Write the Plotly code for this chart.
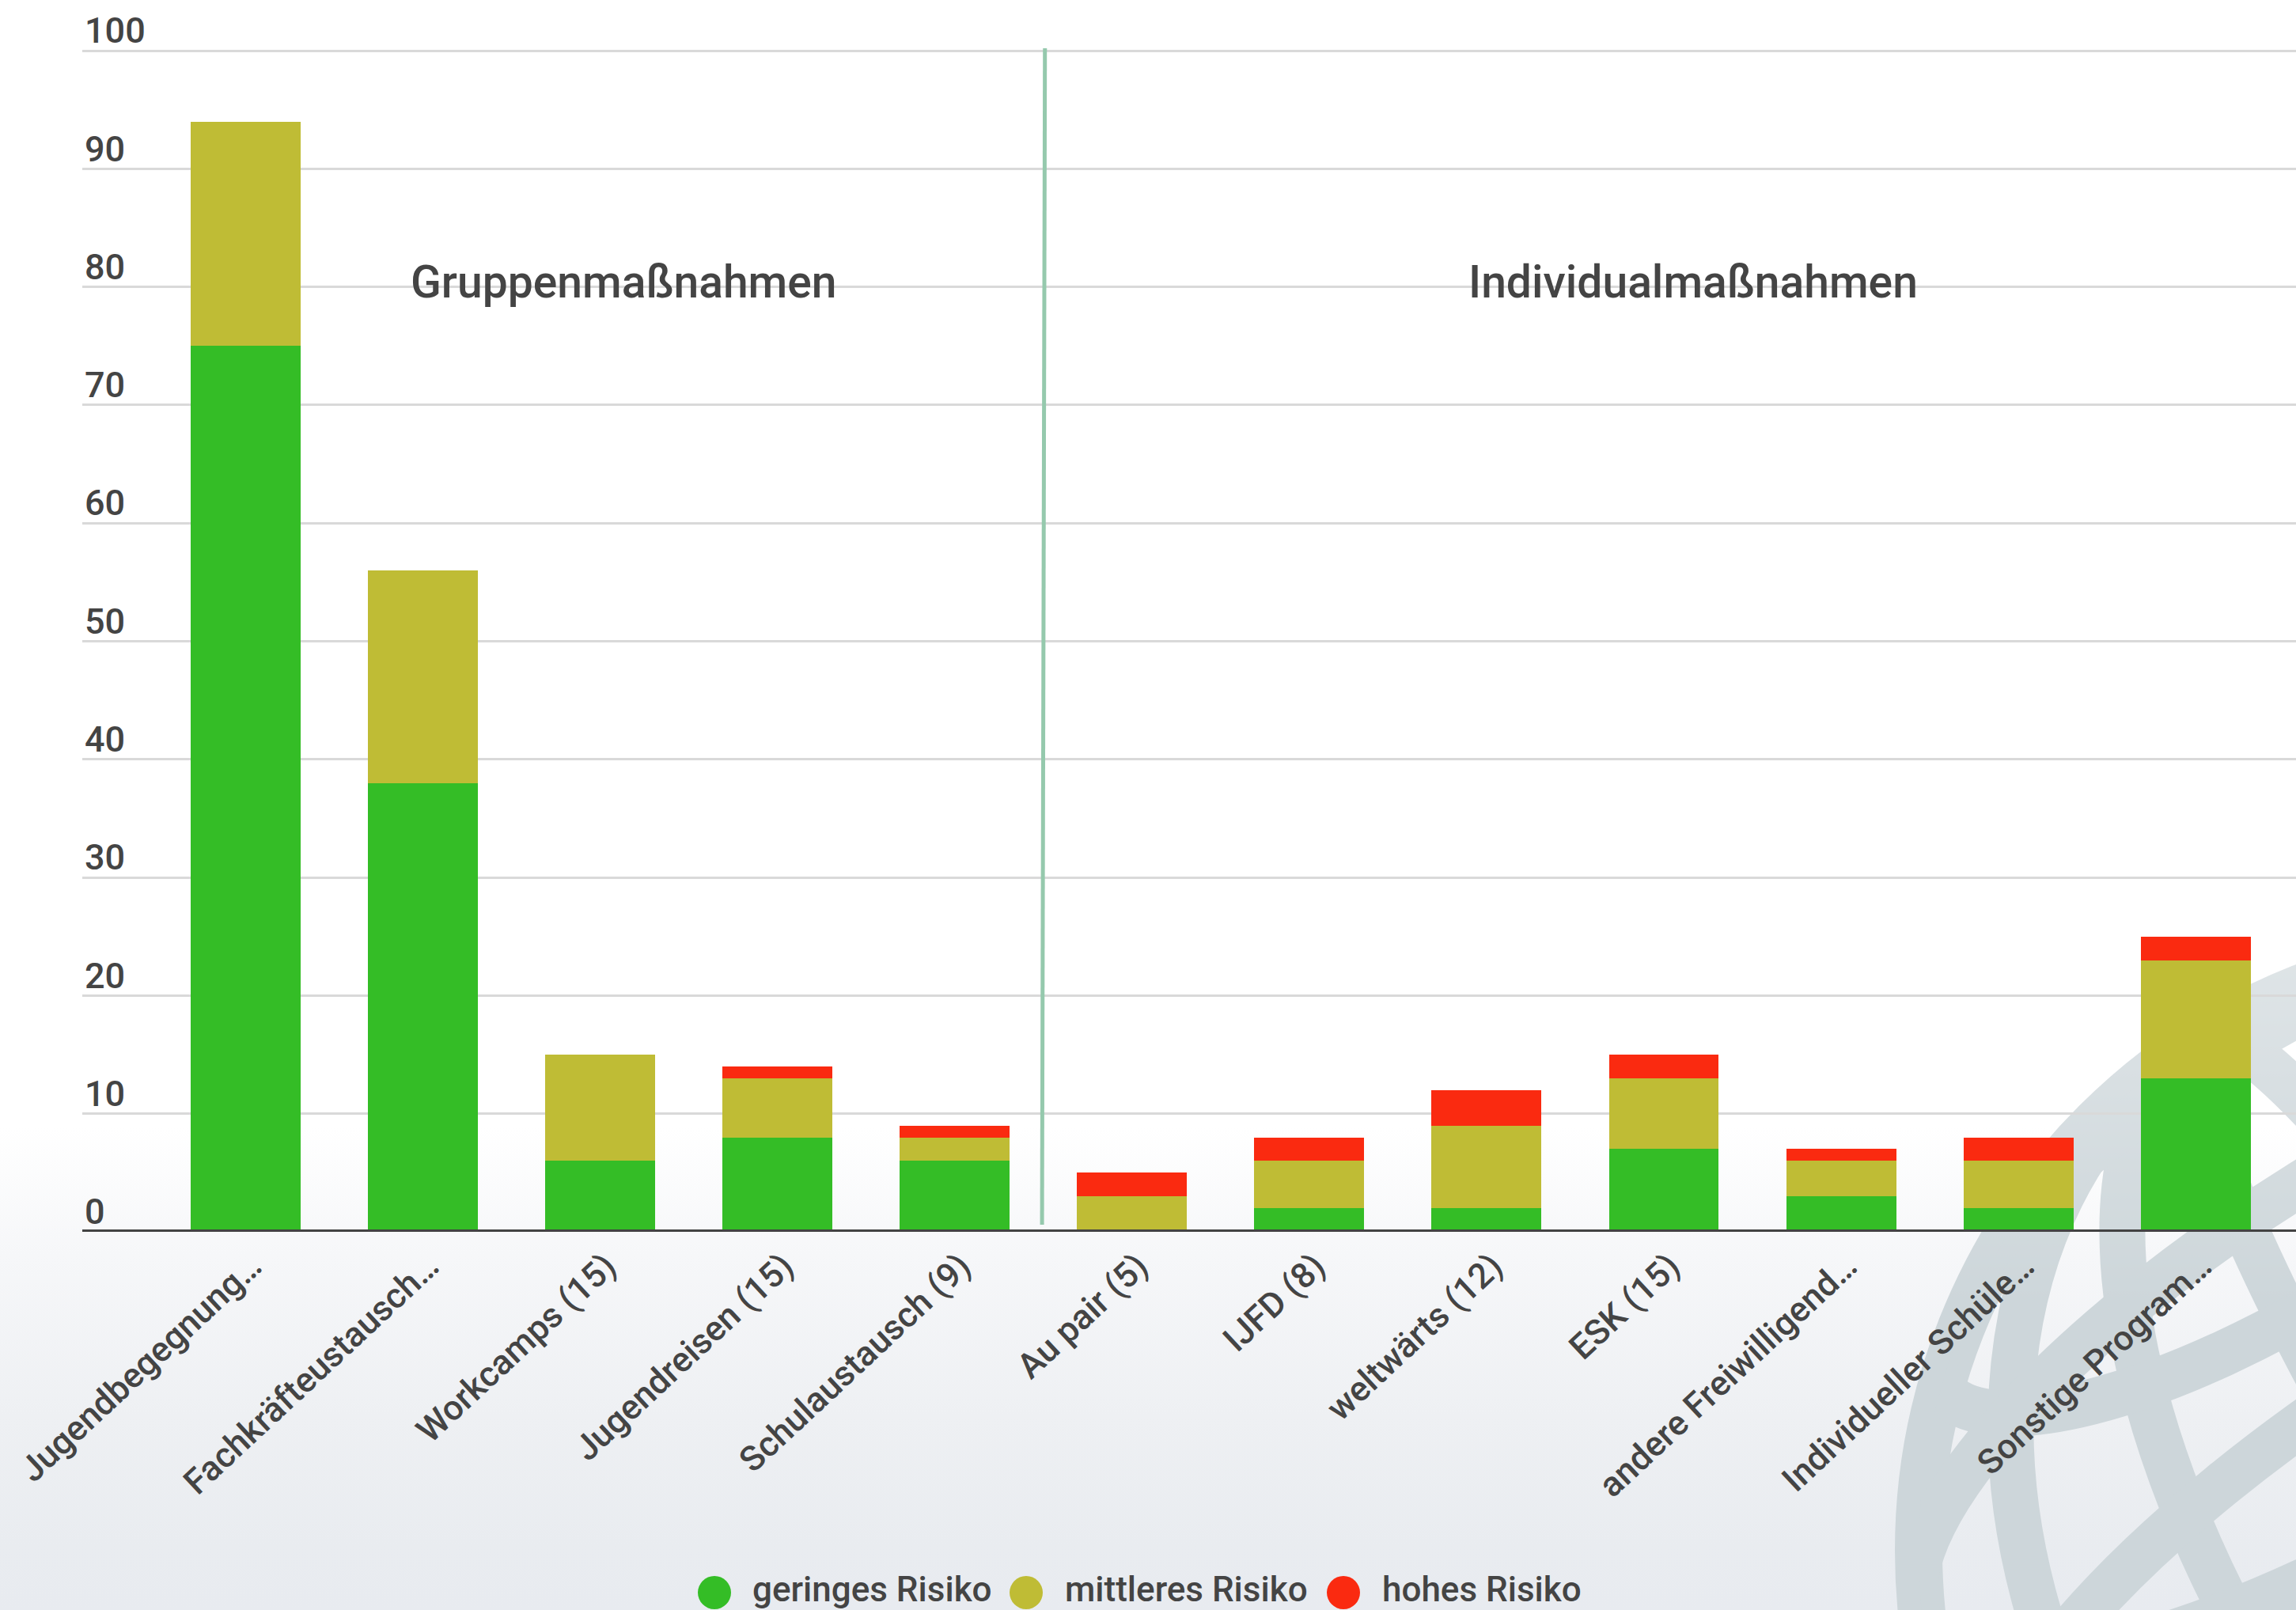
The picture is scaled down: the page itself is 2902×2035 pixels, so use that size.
import base64
import plotly.graph_objects as go

# ---------------- data ----------------
categories = ["Jugendbegegnung…", "Fachkräfteustausch…", "Workcamps (15)", "Jugendreisen (15)",
              "Schulaustausch (9)", "Au pair (5)", "IJFD (8)", "weltwärts (12)", "ESK (15)",
              "andere Freiwilligend…", "Individueller Schüle…", "Sonstige Program…"]
geringes_risiko = [75, 38, 6, 8, 6, 0, 2, 2, 7, 3, 2, 13]
mittleres_risiko = [19, 18, 9, 5, 2, 3, 4, 7, 6, 3, 4, 10]
hohes_risiko = [0, 0, 0, 1, 1, 2, 2, 3, 2, 1, 2, 2]
series_names = ["geringes Risiko", "mittleres Risiko", "hohes Risiko"]
series_colors = ["#34bd26", "#bfbc35", "#fa2a10"]
group_labels = ["Gruppenmaßnahmen", "Individualmaßnahmen"]
y_ticks = [0, 10, 20, 30, 40, 50, 60, 70, 80, 90, 100]

# ---------------- geometry ----------------
W, H = 2902, 2035
ML, MR, MT, MB = 104, 0, 0, 478
PW = W - ML - MR
PH = H - MT - MB
PX_PER_UNIT = 14.93
Y_TOP = PH / PX_PER_UNIT
X_RANGE = [-0.9216, 11.566]
TEXT = "#444444"
FONT = "Roboto"
WEIGHT = 500


def px_x(px):
    return (px - ML) / PW


def px_y(py):
    return (H - MB - py) / PH


# ---------------- background (gradient + globe watermark) ----------------
cx, cy, R = 3190, 1960, 795
rin = R - 30
inner = []
for k in (0.15, 0.47, 0.78):
    inner.append(f'<ellipse cx="{cx}" cy="{cy}" rx="{rin*k:.0f}" ry="{rin}"/>')
for d in (-0.74, -0.42, -0.06, 0.36):
    dy = d * rin
    rx = (rin ** 2 - dy ** 2) ** 0.5
    inner.append(f'<ellipse cx="{cx}" cy="{cy+dy:.0f}" rx="{rx:.0f}" ry="{rx*0.32:.0f}"/>')
svg = f'''<svg xmlns="http://www.w3.org/2000/svg" width="{W}" height="{H}" viewBox="0 0 {W} {H}" preserveAspectRatio="none">
<defs>
<linearGradient id="bg" x1="0" y1="0" x2="0" y2="1">
<stop offset="0" stop-color="#ffffff"/>
<stop offset="0.70" stop-color="#ffffff"/>
<stop offset="0.78" stop-color="#f6f7f9"/>
<stop offset="0.88" stop-color="#eef0f3"/>
<stop offset="0.96" stop-color="#e9ecf0"/>
<stop offset="1" stop-color="#e8ebf0"/>
</linearGradient>
<linearGradient id="fade" gradientUnits="userSpaceOnUse" x1="0" y1="1150" x2="0" y2="1650">
<stop offset="0" stop-color="#9a9a9a"/>
<stop offset="1" stop-color="#ffffff"/>
</linearGradient>
<mask id="gm" maskUnits="userSpaceOnUse" x="0" y="0" width="{W}" height="{H}">
<rect x="0" y="0" width="{W}" height="{H}" fill="url(#fade)"/>
</mask>
<clipPath id="gc"><circle cx="{cx}" cy="{cy}" r="{rin}"/></clipPath>
</defs>
<rect x="0" y="0" width="{W}" height="{H}" fill="url(#bg)"/>
<g mask="url(#gm)" fill="none" stroke="#cdd6da" stroke-width="58">
<circle cx="{cx}" cy="{cy}" r="{rin}" stroke-width="60"/>
<g clip-path="url(#gc)" transform="rotate(-32 {cx} {cy})">{''.join(inner)}</g>
</g>
</svg>'''
bg_src = "data:image/svg+xml;base64," + base64.b64encode(svg.encode("utf-8")).decode("ascii")

# ---------------- figure ----------------
fig = go.Figure()
for name, vals, col in zip(series_names, [geringes_risiko, mittleres_risiko, hohes_risiko], series_colors):
    fig.add_trace(go.Bar(x=categories, y=vals, name=name, marker=dict(color=col, line=dict(width=0)),
                         showlegend=False))

shapes = []
# baseline
shapes.append(dict(type="line", xref="paper", yref="y", x0=0, x1=1, y0=0, y1=0,
                   line=dict(color="#434343", width=6), layer="above"))
# separator between groups
shapes.append(dict(type="line", xref="x", yref="y", x0=4.5087, y0=100.2, x1=4.4923, y1=0.6,
                   line=dict(color="#95c9ad", width=5), layer="above"))

annotations = []
group_centers_px = [788, 2140]
for lab, cxp in zip(group_labels, group_centers_px):
    annotations.append(dict(text=lab, xref="paper", yref="paper", x=px_x(cxp), y=px_y(357),
                            xanchor="center", yanchor="middle", showarrow=False,
                            font=dict(family=FONT, size=57, color=TEXT, weight=WEIGHT)))

# legend (circles + labels)
legend_circle_px = [903, 1297, 1698]
legend_text_px = [951, 1346, 1747]
r_leg = 21
for name, col, cxp, txp in zip(series_names, series_colors, legend_circle_px, legend_text_px):
    shapes.append(dict(type="circle", xref="paper", yref="paper",
                       x0=px_x(cxp - r_leg), x1=px_x(cxp + r_leg),
                       y0=px_y(2013 + r_leg), y1=px_y(2013 - r_leg),
                       fillcolor=col, line=dict(width=0)))
    annotations.append(dict(text=name, xref="paper", yref="paper", x=px_x(txp - 2), y=px_y(2009),
                            xanchor="left", yanchor="middle", showarrow=False,
                            font=dict(family=FONT, size=44, color=TEXT, weight=WEIGHT)))

fig.update_layout(
    width=W, height=H,
    margin=dict(l=ML, r=MR, t=MT, b=MB, pad=0, autoexpand=False),
    paper_bgcolor="#ffffff",
    plot_bgcolor="rgba(0,0,0,0)",
    barmode="stack",
    bargap=0.38,
    showlegend=False,
    font=dict(family=FONT, color=TEXT),
    xaxis=dict(type="category", range=X_RANGE, tickangle=-43, showgrid=False, zeroline=False,
               showline=False, ticks="", automargin=False, ticklabelshift=8, ticklabelstandoff=8,
               tickfont=dict(family=FONT, size=44, color=TEXT, weight=WEIGHT)),
    yaxis=dict(range=[0, Y_TOP], tickvals=y_ticks, ticktext=[str(v) for v in y_ticks],
               showgrid=True, gridcolor="#d9d9d9", gridwidth=3, zeroline=False, showline=False,
               ticks="", ticklabelposition="inside top", automargin=False, ticklabelshift=6,
               ticklabeloverflow="allow",
               tickfont=dict(family=FONT, size=45, color=TEXT, weight=WEIGHT)),
    shapes=shapes,
    annotations=annotations,
    images=[dict(source=bg_src, xref="paper", yref="paper", x=px_x(0), y=px_y(0),
                 sizex=W / PW, sizey=H / PH, xanchor="left", yanchor="top",
                 sizing="stretch", layer="below")],
)

fig.write_html("out.html", config={"displayModeBar": False},
               post_script="document.body.style.margin='0px';document.body.style.overflow='hidden';")
